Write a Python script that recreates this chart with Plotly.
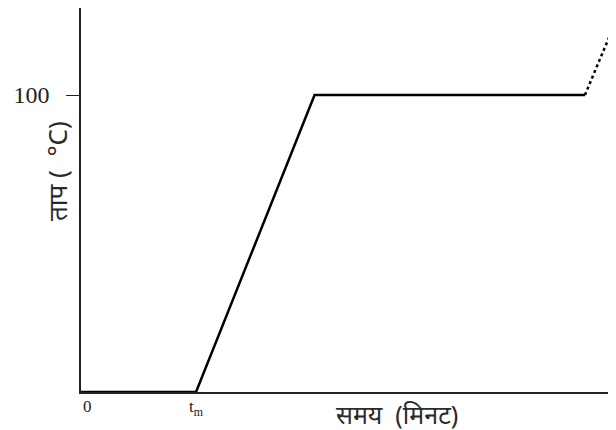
import plotly.graph_objects as go

# heating curve: time (arbitrary minutes) vs temperature
time_solid = [0, 10, 20.3, 43.8]
temp_solid = [0, 0, 100, 100]
time_dotted = [43.8, 46.5]
temp_dotted = [100, 125]

x_tick_vals = [0, 10]
x_tick_text = ["0", "t<sub>m</sub>"]
y_tick_vals = [100]
y_tick_text = ["100"]

x_title = "समय  (मिनट)"
y_title = "ताप (  °C)"

# the page body has an 8px margin, so the figure is a bit smaller
W, H = 608, 422
L, R, T, B = 73, 0, 0, 38
PW, PH = W - L - R, H - T - B


def px(x):
    # page x pixel -> paper fraction
    return (x - 8 - L) / PW


def py(y):
    # page y pixel -> paper fraction
    return (H - B + 8 - y) / PH


fig = go.Figure()
fig.add_trace(go.Scatter(x=time_solid, y=temp_solid, mode="lines",
                         line=dict(color="black", width=2.5),
                         showlegend=False, cliponaxis=False))
fig.add_trace(go.Scatter(x=time_dotted, y=temp_dotted, mode="lines",
                         line=dict(color="black", width=2.5, dash="dot"),
                         showlegend=False))

serif = "Liberation Serif, DejaVu Serif, serif"

fig.update_layout(
    width=W, height=H,
    margin=dict(l=L, r=R, t=T, b=B),
    plot_bgcolor="white", paper_bgcolor="white",
    xaxis=dict(range=[0, 46.5], showgrid=False, zeroline=False,
               showline=True, linecolor="#222", linewidth=1.5,
               showticklabels=False, ticks=""),
    yaxis=dict(range=[0, 129.3], showgrid=False, zeroline=False,
               showline=True, linecolor="#222", linewidth=1.5,
               tickvals=y_tick_vals, ticktext=y_tick_text,
               ticks="outside", ticklen=13, tickwidth=1.2, tickcolor="#222",
               ticklabelstandoff=12,
               tickfont=dict(family=serif, size=24, color="#222")),
)

# x tick labels placed just under the axis
for v, t in zip(x_tick_vals, x_tick_text):
    fig.add_annotation(x=v, y=0, xref="x", yref="y", text=t, showarrow=False,
                       yanchor="top", yshift=-3, xshift=6 if v == 0 else 0,
                       font=dict(family=serif, size=17, color="#222"))

fig.add_annotation(x=px(397), y=py(414), xref="paper", yref="paper",
                   text=x_title, showarrow=False,
                   xanchor="center", yanchor="middle",
                   font=dict(family="Noto Sans, sans-serif", size=25, color="#2a2a2a"))
fig.add_annotation(x=px(57), y=py(171), xref="paper", yref="paper",
                   text=y_title, showarrow=False, textangle=-90,
                   xanchor="center", yanchor="middle",
                   font=dict(family="Noto Sans, sans-serif", size=26, color="#2a2a2a"))

fig.write_html("out.html")
